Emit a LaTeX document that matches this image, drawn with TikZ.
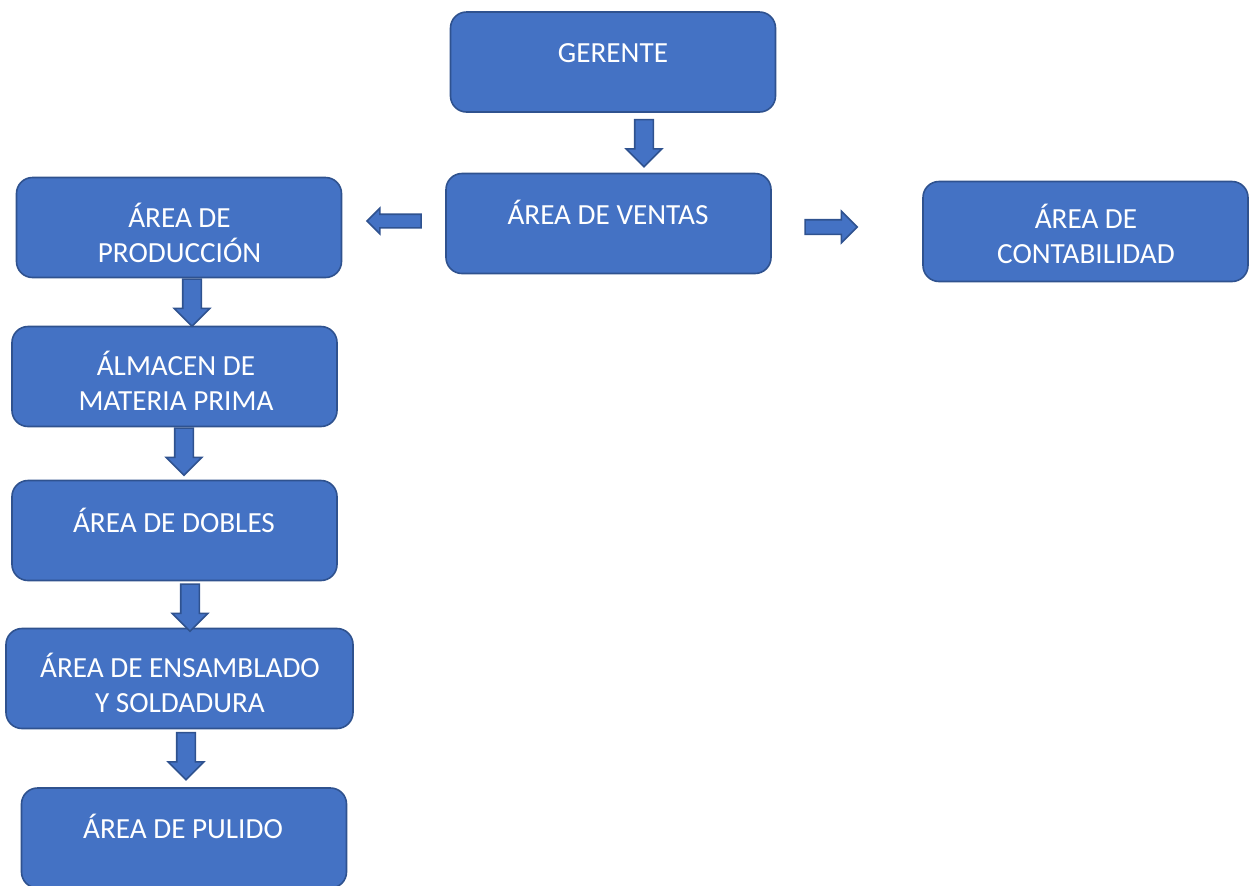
\documentclass[tikz,border=0pt]{standalone}
\usepackage{fontspec}
\setmainfont{Carlito}
\usetikzlibrary{shapes.arrows}
\definecolor{boxfill}{HTML}{4472C4}
\definecolor{boxedge}{HTML}{2F528F}

\begin{document}
\begin{tikzpicture}[x=0.5pt,y=-0.5pt,
  area/.style={rectangle,rounded corners=8pt,draw=boxedge,line width=0.8pt,fill=boxfill,minimum width=162.5pt,minimum height=50pt,inner sep=0pt},
  areatext/.style={text=white,font=\fontsize{14.6}{17.5}\selectfont,align=center,anchor=base,inner sep=0pt},
  flecha/.style={single arrow,draw=boxedge,line width=0.8pt,fill=boxfill,inner xsep=0pt,inner ysep=4.25pt,single arrow head extend=4.25pt,minimum height=23.5pt}]
\useasboundingbox (0,0) rectangle (1249,885);
\node[area] (ger) at (613,62) {};
\node[areatext] (ger-t) at (613,62) {GERENTE};
\node[area] (ven) at (608.5,223.5) {};
\node[areatext] (ven-t) at (608,224) {ÁREA DE VENTAS};
\node[area] (prod) at (179,227.5) {};
\node[areatext] (prod-t) at (179.5,262) {ÁREA DE\\PRODUCCIÓN};
\node[area] (cont) at (1085.5,231.5) {};
\node[areatext] (cont-t) at (1086,263) {ÁREA DE\\CONTABILIDAD};
\node[area] (alm) at (174.5,376.5) {};
\node[areatext] (alm-t) at (176,410) {ÁLMACEN DE\\MATERIA PRIMA};
\node[area] (dob) at (174.5,530.5) {};
\node[areatext] (dob-t) at (174,532) {ÁREA DE DOBLES};
\node[area,minimum width=173.5pt] (ens) at (179.5,678.5) {};
\node[areatext] (ens-t) at (180,712) {ÁREA DE ENSAMBLADO\\Y SOLDADURA};
\node[area] (pul) at (184,838) {};
\node[areatext] (pul-t) at (183,838) {ÁREA DE PULIDO};
\node[flecha,rotate=-90] (a1) at (644,138.5) {};
\node[flecha,rotate=180,inner ysep=3pt,single arrow head extend=3pt,minimum height=27pt] (a2) at (397.5,221) {};
\node[flecha,inner ysep=3.25pt,single arrow head extend=4.25pt,minimum height=26pt] (a3) at (827.5,227) {};
\node[flecha,rotate=-90] (a4) at (192,298) {};
\node[flecha,rotate=-90] (a5) at (184,447) {};
\node[flecha,rotate=-90] (a6) at (190,603) {};
\node[flecha,rotate=-90] (a7) at (186,751.5) {};
\end{tikzpicture}
\end{document}
